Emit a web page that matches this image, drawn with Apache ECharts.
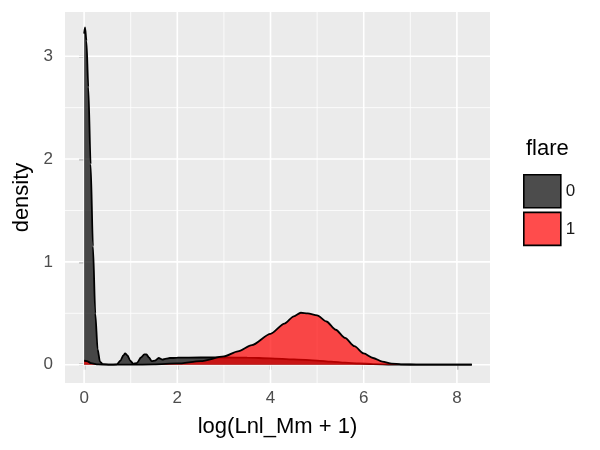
<!DOCTYPE html>
<html>
<head>
<meta charset="utf-8">
<script src="https://cdn.jsdelivr.net/npm/echarts@6/dist/echarts.min.js"></script>
<style>html,body{margin:0;padding:0;background:#fff}#c{width:600px;height:450px}</style>
</head>
<body>
<div id="c"></div>
<script>
// flare = 0 density
var xGray = [0, 0.02, 0.05, 0.09, 0.14, 0.19, 0.24, 0.29, 0.34, 0.4, 0.55, 0.7, 0.78, 0.84, 0.88, 0.93, 0.99, 1.05, 1.13, 1.22, 1.29, 1.34, 1.39, 1.45, 1.52, 1.6, 1.68, 1.76, 1.84, 1.92, 2.0, 2.5, 3.0, 3.5, 4.0, 4.5, 5.0, 5.3, 5.6, 5.9, 6.2, 6.6, 7.0, 8.32];
var yGray = [3.22, 3.28, 3.15, 2.7, 1.95, 1.15, 0.5, 0.15, 0.03, 0.005, 0.0, 0.003, 0.04, 0.09, 0.11, 0.09, 0.04, 0.01, 0.015, 0.07, 0.1, 0.1, 0.07, 0.035, 0.04, 0.065, 0.05, 0.06, 0.065, 0.065, 0.068, 0.07, 0.07, 0.068, 0.062, 0.052, 0.04, 0.03, 0.02, 0.012, 0.006, 0.002, 0.0, 0.0];
// flare = 1 density
var xRed = [0, 0.06, 0.15, 0.3, 0.5, 1.0, 1.5, 2.0, 2.5, 3.0, 3.3, 3.6, 4.0, 4.3, 4.5, 4.65, 4.8, 5.0, 5.2, 5.4, 5.6, 5.8, 6.0, 6.2, 6.4, 6.6, 6.8, 7.2, 8.32];
var yRed = [0.04, 0.035, 0.015, 0.003, 0.0, 0.0, 0.003, 0.012, 0.035, 0.08, 0.13, 0.19, 0.3, 0.4, 0.47, 0.505, 0.5, 0.48, 0.42, 0.34, 0.26, 0.18, 0.11, 0.065, 0.03, 0.01, 0.004, 0.0, 0.0];
var groups = ['0', '1'];
var xTicks = [0, 2, 4, 6, 8];
var xMinor = [1, 3, 5, 7];
var yTicks = [0, 1, 2, 3];
var yMinor = [0.5, 1.5, 2.5];
var xLim = [-0.41, 8.71];
var yLim = [-0.178, 3.43];

function pairs(xs, ys) { return xs.map(function (x, i) { return [x, ys[i]]; }); }

var FONT = 'Liberation Sans';

function gridSeries(vals, vertical, width) {
  return vals.map(function (v) {
    return {
      type: 'line', z: 1, silent: true, showSymbol: false, symbol: 'none',
      data: vertical ? [[v, yLim[0]], [v, yLim[1]]] : [[xLim[0], v], [xLim[1], v]],
      lineStyle: { color: '#ffffff', width: width }, tooltip: { show: false }
    };
  });
}

var series = []
  .concat(gridSeries(xMinor, true, 0.8))
  .concat(gridSeries(yMinor, false, 0.8))
  .concat(gridSeries(xTicks, true, 1.6))
  .concat(gridSeries(yTicks, false, 1.6))
  .concat([
    {
      name: groups[0], type: 'line', z: 2, data: pairs(xGray, yGray), showSymbol: false, symbol: 'none',
      smooth: 0.25, smoothMonotone: 'x',
      lineStyle: { color: '#000', width: 1.8 },
      itemStyle: { color: 'rgba(0,0,0,0.7)' },
      areaStyle: { color: 'rgba(0,0,0,0.7)', opacity: 1 }
    },
    {
      name: groups[1], type: 'line', z: 3, data: pairs(xRed, yRed), showSymbol: false, symbol: 'none',
      smooth: 0.25, smoothMonotone: 'x',
      lineStyle: { color: '#000', width: 1.8 },
      itemStyle: { color: 'rgba(255,0,0,0.7)' },
      areaStyle: { color: 'rgba(255,0,0,0.7)', opacity: 1 }
    }
  ]);

var chart = echarts.init(document.getElementById('c'));
chart.setOption({
  animation: false,
  backgroundColor: '#ffffff',
  textStyle: { fontFamily: FONT },
  grid: { left: 65, right: 110, top: 12, bottom: 67, show: true, backgroundColor: '#EBEBEB', borderWidth: 0 },
  title: { text: 'flare', left: 526, top: 138, padding: 0, textStyle: { fontFamily: FONT, fontSize: 22, fontWeight: 'normal', color: '#000' } },
  legend: {
    orient: 'vertical', left: 523, top: 174, padding: 0, itemGap: 3,
    itemWidth: 37, itemHeight: 33, icon: 'rect',
    textStyle: { fontFamily: FONT, fontSize: 17, color: '#1a1a1a' },
    data: [
      { name: groups[0], itemStyle: { color: 'rgba(0,0,0,0.7)', borderColor: '#000', borderWidth: 1.6 } },
      { name: groups[1], itemStyle: { color: 'rgba(255,0,0,0.7)', borderColor: '#000', borderWidth: 1.6 } }
    ]
  },
  xAxis: {
    type: 'value', min: xLim[0], max: xLim[1],
    axisLine: { show: false }, splitLine: { show: false },
    axisTick: { show: true, customValues: xTicks, length: 5, lineStyle: { color: '#333', width: 1.3 } },
    axisLabel: { customValues: xTicks, color: '#4D4D4D', fontSize: 17, margin: 7, fontFamily: FONT },
    name: 'log(Lnl_Mm + 1)', nameLocation: 'middle', nameGap: 33,
    nameTextStyle: { fontSize: 22, color: '#000', fontFamily: FONT }
  },
  yAxis: {
    type: 'value', min: yLim[0], max: yLim[1],
    axisLine: { show: false }, splitLine: { show: false },
    axisTick: { show: true, customValues: yTicks, length: 5, lineStyle: { color: '#333', width: 1.3 } },
    axisLabel: { customValues: yTicks, color: '#4D4D4D', fontSize: 17, margin: 12, fontFamily: FONT },
    name: 'density', nameLocation: 'middle', nameGap: 32, nameRotate: 90,
    nameTextStyle: { fontSize: 22, color: '#000', fontFamily: FONT }
  },
  series: series
});
</script>
</body>
</html>
